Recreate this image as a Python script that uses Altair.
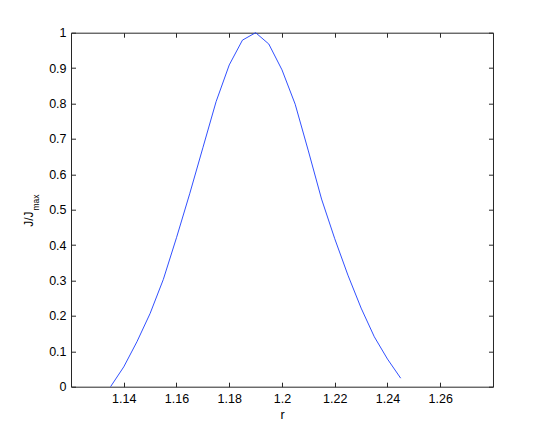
import altair as alt
import pandas as pd

# ---- data ----
r_values = [1.135, 1.14, 1.145, 1.15, 1.155, 1.16, 1.165, 1.17, 1.175, 1.18,
            1.185, 1.19, 1.195, 1.2, 1.205, 1.21, 1.215, 1.22, 1.225, 1.23,
            1.235, 1.24, 1.245]
j_ratio = [0.0, 0.056, 0.127, 0.207, 0.303, 0.421, 0.545, 0.675, 0.805, 0.909,
           0.979, 1.0, 0.968, 0.895, 0.798, 0.666, 0.53, 0.418, 0.315, 0.222,
           0.141, 0.078, 0.024]
x_ticks = [1.14, 1.16, 1.18, 1.2, 1.22, 1.24, 1.26]
y_ticks = [0, 0.1, 0.2, 0.3, 0.4, 0.5, 0.6, 0.7, 0.8, 0.9, 1.0]
x_domain = [1.12, 1.28]
y_domain = [0, 1]
x_title = "r"
y_title_main = ["J/J"]
y_title_sub = ["max"]

df = pd.DataFrame({"r": r_values, "J": j_ratio})

W, H = 422, 354
AX = "#262626"
FONT = "Liberation Sans"
TICK = 4.5

xs = alt.Scale(domain=x_domain, nice=False, zero=False)
ys = alt.Scale(domain=y_domain, nice=False, zero=False)


def tick_axis(orient, offset, values):
    return alt.Axis(orient=orient, offset=offset, values=values, labels=False,
                    ticks=True, tickSize=TICK, tickColor=AX, tickWidth=1,
                    domain=False, grid=False, title=None)


line = alt.Chart(df).mark_line(color="#1a3cff", strokeWidth=0.9).encode(
    x=alt.X("r:Q", scale=xs,
            axis=alt.Axis(orient="bottom", values=x_ticks, format=".2~f",
                          ticks=False, domain=False, grid=False,
                          labelPadding=5.5, title=x_title, titlePadding=4)),
    y=alt.Y("J:Q", scale=ys,
            axis=alt.Axis(orient="left", values=y_ticks, format=".1~f",
                          ticks=False, domain=False, grid=False,
                          labelPadding=5, title=None)),
)

# inward ticks on bottom / left
ticks_a = alt.Chart(df).mark_line(opacity=0).encode(
    x=alt.X("r:Q", scale=xs, axis=tick_axis("top", -H, x_ticks)),
    y=alt.Y("J:Q", scale=ys, axis=tick_axis("right", -W, y_ticks)),
)
# inward ticks on top / right
ticks_b = alt.Chart(df).mark_line(opacity=0).encode(
    x=alt.X("r:Q", scale=xs, axis=tick_axis("bottom", -H, x_ticks)),
    y=alt.Y("J:Q", scale=ys, axis=tick_axis("left", -W, y_ticks)),
)

title_main = alt.Chart(pd.DataFrame({"t": y_title_main})).mark_text(
    angle=270, align="center", baseline="alphabetic", font=FONT,
    fontSize=12, color="black"
).encode(text="t:N", x=alt.value(-37.7), y=alt.value(186.5))

title_sub = alt.Chart(pd.DataFrame({"t": y_title_sub})).mark_text(
    angle=270, align="center", baseline="alphabetic", font=FONT,
    fontSize=8.5, color="black"
).encode(text="t:N", x=alt.value(-31.7), y=alt.value(169.8))

chart = alt.layer(line, ticks_a, ticks_b, title_main, title_sub).resolve_axis(
    x="independent", y="independent"
).properties(
    width=W, height=H,
    autosize=alt.AutoSizeParams(type="none"),
    padding={"left": 63, "top": 24.7, "right": 36, "bottom": 45},
).configure_view(
    stroke=AX, strokeWidth=1
).configure_axis(
    labelFont=FONT, labelFontSize=12.5, labelColor="black",
    titleFont=FONT, titleFontSize=12.5, titleColor="black", titleFontWeight="normal",
)

chart.save("out.html", embed_options={"renderer": "svg", "actions": False})
